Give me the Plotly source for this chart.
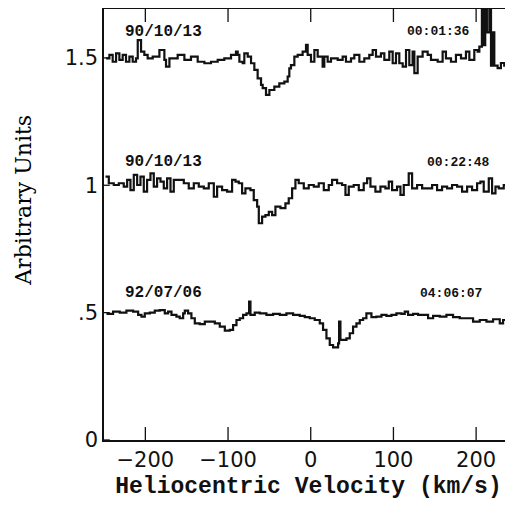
import plotly.graph_objects as go

# ---- data ----
v_top = [-247.5, -243.5, -239.5, -235.4, -231.4, -227.4, -223.4, -219.3, -215.3, -211.3,
         -209.2, -205.2, -201.2, -197.2, -191.1, -183.0, -177.0, -175.0, -170.9, -160.9,
         -152.8, -144.8, -136.7, -128.6, -120.6, -112.5, -104.5, -96.4, -90.4, -88.3,
         -86.3, -82.3, -80.3, -76.2, -72.2, -68.2, -64.2, -60.1, -58.1, -54.1,
         -50.0, -44.0, -38.0, -31.9, -27.9, -25.9, -23.9, -19.8, -15.8, -9.8,
         -5.7, -3.7, 0.3, 4.4, 8.4, 14.4, 16.4, 20.5, 24.5, 32.6,
         38.6, 42.6, 48.7, 52.7, 58.8, 64.8, 70.8, 74.9, 78.9, 84.9,
         89.0, 95.0, 99.1, 103.1, 107.1, 111.2, 115.2, 119.2, 123.2, 125.3,
         129.3, 135.3, 141.4, 145.4, 153.5, 159.5, 163.5, 169.6, 175.6, 181.7,
         187.7, 191.8, 197.8, 201.8, 203.9, 207.0, 209.0, 211.0, 213.0, 216.0,
         218.0, 220.0, 222.0, 226.0, 230.0, 234.0, 240.0, 244.0]
f_top = [1.498, 1.512, 1.485, 1.518, 1.492, 1.512, 1.485, 1.505, 1.485, 1.498,
         1.570, 1.525, 1.512, 1.498, 1.505, 1.531, 1.492, 1.466, 1.498, 1.512,
         1.492, 1.505, 1.485, 1.479, 1.485, 1.492, 1.498, 1.512, 1.525, 1.512,
         1.485, 1.479, 1.518, 1.505, 1.479, 1.453, 1.420, 1.394, 1.381, 1.355,
         1.374, 1.387, 1.400, 1.407, 1.427, 1.459, 1.472, 1.505, 1.512, 1.525,
         1.551, 1.512, 1.485, 1.531, 1.505, 1.466, 1.505, 1.485, 1.498, 1.492,
         1.505, 1.485, 1.498, 1.512, 1.485, 1.498, 1.512, 1.531, 1.505, 1.518,
         1.492, 1.525, 1.479, 1.518, 1.479, 1.466, 1.531, 1.472, 1.525, 1.440,
         1.505, 1.525, 1.512, 1.492, 1.485, 1.525, 1.498, 1.485, 1.512, 1.498,
         1.525, 1.492, 1.531, 1.525, 1.544, 1.800, 1.550, 1.800, 1.600, 1.800,
         1.470, 1.600, 1.470, 1.460, 1.480, 1.470, 1.480, 1.480]

v_mid = [-248.2, -244.2, -238.2, -232.1, -226.1, -222.0, -218.0, -214.0, -209.9, -205.9,
         -201.9, -197.9, -193.8, -189.8, -185.8, -181.7, -177.7, -173.7, -169.6, -165.6,
         -159.6, -153.5, -147.5, -141.4, -135.4, -129.3, -123.3, -117.2, -113.2, -107.2,
         -101.1, -95.1, -91.0, -87.0, -83.0, -79.0, -72.9, -68.9, -64.8, -62.8,
         -58.8, -54.8, -50.7, -46.7, -42.7, -36.6, -30.6, -26.6, -22.5, -18.5,
         -14.5, -8.4, -2.4, 3.7, 9.7, 15.8, 21.8, 25.8, 31.9, 37.9,
         42.0, 46.0, 52.0, 58.1, 64.1, 68.2, 72.2, 78.2, 84.3, 90.3,
         94.4, 98.4, 104.4, 108.5, 112.5, 118.5, 122.6, 128.6, 134.7, 140.7,
         146.8, 152.8, 158.8, 164.9, 170.9, 177.0, 183.0, 189.1, 195.1, 201.2,
         205.2, 209.2, 215.3, 219.3, 223.4, 227.4, 233.4, 237.5, 241.5, 244.0]
f_mid = [1.034, 1.008, 1.001, 1.008, 0.995, 1.021, 0.981, 1.041, 1.001, 1.034,
         0.975, 1.021, 1.047, 0.995, 1.027, 1.014, 0.988, 1.027, 0.975, 1.021,
         1.021, 1.008, 0.988, 1.008, 0.995, 0.988, 1.008, 0.955, 0.995, 0.981,
         0.975, 1.021, 1.014, 1.008, 0.968, 0.988, 0.981, 0.942, 0.916, 0.851,
         0.877, 0.883, 0.896, 0.883, 0.916, 0.910, 0.929, 0.949, 0.988, 1.021,
         1.008, 0.988, 1.001, 0.995, 1.008, 0.981, 1.001, 1.021, 1.008, 1.001,
         0.962, 0.995, 1.001, 0.981, 1.008, 1.027, 0.995, 0.975, 0.995, 0.988,
         1.014, 0.981, 0.995, 0.962, 1.001, 1.047, 0.988, 1.001, 0.988, 0.988,
         1.001, 0.981, 0.995, 0.988, 1.001, 0.995, 0.975, 0.995, 0.981, 1.008,
         1.014, 0.975, 1.027, 0.968, 0.995, 0.988, 1.001, 0.942, 0.995, 0.995]

v_bot = [-247.0, -239.0, -230.9, -222.9, -214.8, -208.7, -204.7, -200.7, -194.6, -188.6,
         -182.5, -176.5, -172.5, -168.4, -162.4, -158.4, -154.3, -152.3, -148.3, -144.3,
         -140.2, -134.2, -128.1, -122.1, -116.0, -110.0, -103.9, -97.9, -93.9, -89.8,
         -85.8, -81.8, -77.7, -74.5, -72.9, -67.7, -61.6, -53.6, -45.5, -37.4,
         -29.4, -21.3, -13.3, -7.2, -1.2, 4.9, 10.9, 14.9, 19.0, 23.0,
         27.0, 31.1, 33.1, 34.3, 35.9, 39.1, 43.2, 47.2, 51.2, 55.3,
         59.3, 63.3, 67.3, 73.4, 79.4, 85.5, 91.5, 97.6, 103.6, 109.7,
         113.7, 117.7, 123.8, 129.8, 135.9, 141.9, 148.0, 156.0, 164.1, 172.1,
         180.2, 188.3, 196.3, 204.4, 212.5, 220.5, 228.6, 232.6, 236.6, 242.7, 244.0]
f_bot = [0.495, 0.504, 0.500, 0.508, 0.504, 0.491, 0.484, 0.497, 0.500, 0.508,
         0.510, 0.497, 0.504, 0.491, 0.484, 0.478, 0.497, 0.508, 0.497, 0.478,
         0.458, 0.455, 0.465, 0.465, 0.458, 0.445, 0.429, 0.432, 0.451, 0.471,
         0.478, 0.491, 0.497, 0.543, 0.491, 0.500, 0.497, 0.491, 0.495, 0.491,
         0.497, 0.491, 0.487, 0.482, 0.478, 0.471, 0.458, 0.432, 0.399, 0.373,
         0.364, 0.364, 0.379, 0.465, 0.393, 0.393, 0.399, 0.419, 0.445, 0.458,
         0.471, 0.478, 0.497, 0.482, 0.484, 0.491, 0.487, 0.491, 0.497, 0.495,
         0.504, 0.491, 0.495, 0.491, 0.491, 0.478, 0.487, 0.484, 0.491, 0.482,
         0.478, 0.478, 0.465, 0.471, 0.465, 0.474, 0.458, 0.471, 0.497, 0.491, 0.491]

spectra = [(v_top, f_top), (v_mid, f_mid), (v_bot, f_bot)]

date_labels = ["90/10/13", "90/10/13", "92/07/06"]
time_labels = ["00:01:36", "00:22:48", "04:06:07"]
label_y = [1.602, 1.091, 0.577]
date_x = -178
time_x = [155, 179, 170]

x_range = [-250, 244.6]
y_range = [0, 1.692]
x_ticks = [-200, -100, 0, 100, 200]
y_ticks = [0, 0.5, 1, 1.5]
y_ticktext = ["0", ".5", "1", "1.5"]

# tick-mark lengths expressed in axis units (13 px along y, 6 px along x)
x_tick_len = 0.051
y_tick_len = 7.0

fig = go.Figure()
for v, f in spectra:
    fig.add_trace(go.Scatter(x=v, y=f, mode="lines", line=dict(color="#111111", width=2.2, shape="hv"),
                             showlegend=False, hoverinfo="skip"))

# inward tick marks on bottom and top frame, and on the left frame
tick_style = dict(type="data", symmetric=False, width=0, thickness=1.3, color="#111111")
fig.add_trace(go.Scatter(x=x_ticks, y=[y_range[0]] * len(x_ticks), mode="markers",
                         marker=dict(opacity=0), showlegend=False, hoverinfo="skip", cliponaxis=False,
                         error_y=dict(array=[x_tick_len] * len(x_ticks), arrayminus=[0] * len(x_ticks),
                                      **tick_style)))
fig.add_trace(go.Scatter(x=x_ticks, y=[y_range[1]] * len(x_ticks), mode="markers",
                         marker=dict(opacity=0), showlegend=False, hoverinfo="skip", cliponaxis=False,
                         error_y=dict(array=[0] * len(x_ticks), arrayminus=[x_tick_len] * len(x_ticks),
                                      **tick_style)))
fig.add_trace(go.Scatter(x=[x_range[0]] * len(y_ticks), y=y_ticks, mode="markers",
                         marker=dict(opacity=0), showlegend=False, hoverinfo="skip", cliponaxis=False,
                         error_x=dict(array=[y_tick_len] * len(y_ticks), arrayminus=[0] * len(y_ticks),
                                      **tick_style)))

for d, t, yy, tx in zip(date_labels, time_labels, label_y, time_x):
    fig.add_annotation(x=date_x, y=yy, xref="x", yref="y", text=d, showarrow=False,
                       font=dict(family="Liberation Mono", size=16, color="#111111", weight="bold"))
    fig.add_annotation(x=tx, y=yy, xref="x", yref="y", text=t, showarrow=False,
                       font=dict(family="Liberation Mono", size=13, color="#111111", weight="bold"))

fig.add_annotation(x=-0.196, y=0.557, xref="paper", yref="paper", text="Arbitrary Units",
                   textangle=-90, showarrow=False, xanchor="center", yanchor="middle",
                   font=dict(family="DejaVu Serif", size=22, color="#000000"))

# page body has an 8px margin, so the figure is offset by 8px right/down
fig.update_layout(
    width=505, height=505,
    margin=dict(l=96, r=0, t=1, b=73, autoexpand=False),
    paper_bgcolor="white", plot_bgcolor="white",
    font=dict(color="#111111"),
    xaxis=dict(
        range=x_range, tickmode="array", tickvals=x_ticks, ticks="",
        showline=True, linecolor="#111111", linewidth=1.5, mirror=True,
        showgrid=False, zeroline=False,
        tickfont=dict(family="DejaVu Sans", size=21, color="#111111"),
        title=dict(text="Heliocentric Velocity (km/s)", standoff=6,
                   font=dict(family="Liberation Mono", size=23, color="#111111", weight="bold")),
    ),
    yaxis=dict(
        range=y_range, tickmode="array", tickvals=y_ticks, ticktext=y_ticktext, ticks="",
        showline=True, linecolor="#111111", linewidth=1.5, mirror=False,
        showgrid=False, zeroline=False,
        tickfont=dict(family="DejaVu Sans", size=21, color="#111111"),
    ),
)

fig.write_html("out.html")
